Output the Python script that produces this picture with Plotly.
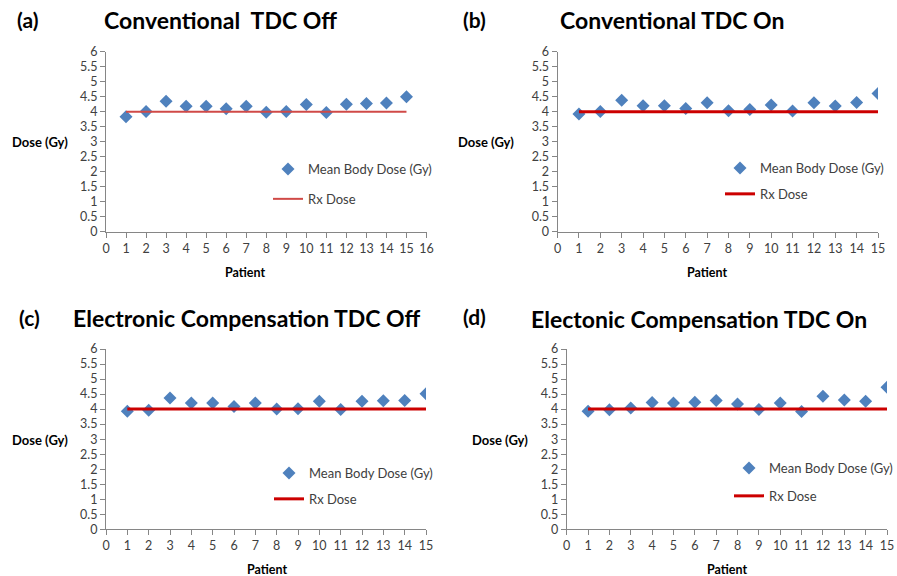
import plotly.graph_objects as go

W, H = 897, 576

patients = list(range(1, 16))
rx_dose = [4.0] * 15

dose_a = [3.83, 4.01, 4.35, 4.18, 4.18, 4.10, 4.18, 3.98, 4.01, 4.24, 3.97, 4.25, 4.27, 4.29, 4.50]
dose_b = [3.92, 4.01, 4.38, 4.20, 4.20, 4.11, 4.30, 4.03, 4.07, 4.22, 4.02, 4.30, 4.19, 4.31, 4.61]
dose_c = [3.93, 3.96, 4.37, 4.20, 4.20, 4.09, 4.20, 4.00, 4.01, 4.26, 3.99, 4.26, 4.28, 4.29, 4.51]
dose_d = [3.93, 3.98, 4.04, 4.22, 4.20, 4.23, 4.29, 4.17, 3.99, 4.20, 3.92, 4.43, 4.30, 4.26, 4.73]

panel_labels = ["(a)", "(b)", "(c)", "(d)"]
titles = ["Conventional\u00a0 TDC Off", "Conventional TDC On",
          "Electronic Compensation TDC Off", "Electonic Compensation TDC On"]
x_max = [16, 15, 15, 15]
y_ticks = [0, 0.5, 1, 1.5, 2, 2.5, 3, 3.5, 4, 4.5, 5, 5.5, 6]
y_tick_text = ["0", "0.5", "1", "1.5", "2", "2.5", "3", "3.5", "4", "4.5", "5", "5.5", "6"]

def fx(p):
    return p / W

def fy(p):
    return 1 - p / H

# plot areas in pixels: (left, right, top, bottom)
areas = [(106, 426.5, 51.7, 231.7), (557.6, 878, 51.7, 231.7),
         (106, 426, 349, 529.3), (566.7, 887, 349, 529.3)]
label_pos = [(15, 20), (461, 20), (17, 317), (461, 316)]
title_pos = [(220, 20), (672, 20), (247, 318), (699, 319)]
doseax_pos = [(40, 142), (486, 142), (40, 440), (500, 440)]
patient_pos = [(245, 272), (707, 272), (267, 569), (727, 569)]
legend_pos = [(268, 154), (720, 153), (269, 458), (729, 453)]
legend_gaps = [10, 6, 6, 8]
rx_colors = ["#D04A47", "#CC0000", "#CC0000", "#CC0000"]
rx_widths = [2, 3, 3, 3]

all_doses = [dose_a, dose_b, dose_c, dose_d]

fig = go.Figure()
annotations = []
layout = {}
font_family = "Lato"
tick_size = 12.5

for i in range(4):
    sfx = "" if i == 0 else str(i + 1)
    xa, ya = "x" + sfx, "y" + sfx
    lg = "legend" + sfx
    l, r, t, b = areas[i]
    fig.add_trace(go.Scatter(
        x=patients, y=all_doses[i], mode="markers", name="Mean Body Dose (Gy)",
        marker=dict(symbol="diamond", size=10, color="#4F81BD"),
        xaxis=xa, yaxis=ya, legend=lg, legendgroup="m" + sfx))
    fig.add_trace(go.Scatter(
        x=patients, y=rx_dose, mode="lines", name="Rx Dose",
        line=dict(color=rx_colors[i], width=rx_widths[i]),
        xaxis=xa, yaxis=ya, legend=lg, legendgroup="r" + sfx))
    layout["xaxis" + sfx] = dict(
        domain=[fx(l), fx(r)], range=[0, x_max[i]], anchor=ya,
        tickmode="array", tickvals=list(range(0, x_max[i] + 1)),
        showline=True, linecolor="#868686", linewidth=1,
        ticks="outside", ticklen=5, tickcolor="#868686",
        showgrid=False, zeroline=False, automargin=False,
        tickfont=dict(family=font_family, size=tick_size, color="#404040"))
    layout["yaxis" + sfx] = dict(
        domain=[fy(b), fy(t)], range=[0, 6], anchor=xa,
        tickmode="array", tickvals=y_ticks, ticktext=y_tick_text,
        showline=True, linecolor="#868686", linewidth=1,
        ticks="outside", ticklen=5, tickcolor="#868686",
        showgrid=False, zeroline=False, automargin=False,
        tickfont=dict(family=font_family, size=tick_size, color="#404040"))
    layout[lg] = dict(
        x=fx(legend_pos[i][0]), y=fy(legend_pos[i][1]),
        xanchor="left", yanchor="top", bgcolor="rgba(0,0,0,0)",
        borderwidth=0, tracegroupgap=legend_gaps[i], traceorder="grouped",
        font=dict(family=font_family, size=13, color="#404040"))
    annotations.append(dict(
        text=panel_labels[i], x=fx(label_pos[i][0]), y=fy(label_pos[i][1]),
        xref="paper", yref="paper", xanchor="left", yanchor="middle",
        showarrow=False, font=dict(family=font_family, size=21, color="black", weight="bold")))
    annotations.append(dict(
        text=titles[i], x=fx(title_pos[i][0]), y=fy(title_pos[i][1]),
        xref="paper", yref="paper", xanchor="center", yanchor="middle",
        showarrow=False, font=dict(family=font_family, size=23, color="black", weight="bold")))
    annotations.append(dict(
        text="Dose (Gy)", x=fx(doseax_pos[i][0]), y=fy(doseax_pos[i][1]),
        xref="paper", yref="paper", xanchor="center", yanchor="middle",
        showarrow=False, font=dict(family=font_family, size=13, color="black", weight="bold")))
    annotations.append(dict(
        text="Patient", x=fx(patient_pos[i][0]), y=fy(patient_pos[i][1]),
        xref="paper", yref="paper", xanchor="center", yanchor="middle",
        showarrow=False, font=dict(family=font_family, size=12.5, color="black", weight="bold")))

fig.update_layout(
    width=W, height=H, margin=dict(l=0, r=0, t=0, b=0, pad=0, autoexpand=False),
    paper_bgcolor="white", plot_bgcolor="white",
    showlegend=True, annotations=annotations, **layout)

fig.write_html(
    "out.html",
    config={"displayModeBar": False},
    post_script=("document.documentElement.style.margin='0';"
                 "document.documentElement.style.overflow='hidden';"
                 "document.body.style.margin='0';"
                 "document.body.style.padding='0';"
                 "document.body.style.overflow='hidden';"))
